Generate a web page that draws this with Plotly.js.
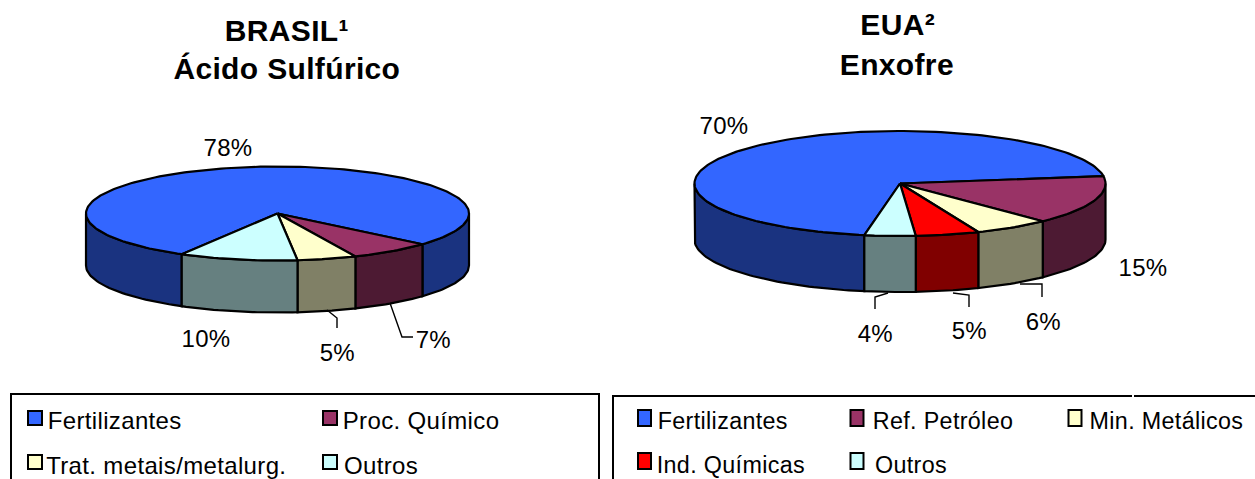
<!DOCTYPE html>
<html>
<head>
<meta charset="utf-8">
<script src="https://cdn.plot.ly/plotly-3.0.1.min.js"></script>
<style>
html,body{margin:0;padding:0;background:#fff;overflow:hidden}
#chart{width:1255px;height:479px}
#chart .annotation-text{letter-spacing:.35px}
</style>
</head>
<body>
<div id="chart"></div>
<script>
// Sector shares (%), in drawing order
const brasilCategories = ['Fertilizantes', 'Proc. Químico', 'Trat. metais/metalurg.', 'Outros'];
const brasilValues = [78, 7, 5, 10];
const brasilColors = ['#3366FF', '#993366', '#FFFFCC', '#CCFFFF'];

const euaCategories = ['Fertilizantes', 'Ref. Petróleo', 'Min. Metálicos', 'Ind. Químicas', 'Outros'];
const euaValues = [70, 15, 6, 5, 4];
const euaColors = ['#3366FF', '#993366', '#FFFFCC', '#FF0000', '#CCFFFF'];

// Geometry of each tilted pie, in page pixels; startDeg runs clockwise from 3 o'clock
const brasilPie = {cx: 277.5, cy: 213.5, rx: 191.5, ry: 47, depth: 52, startDeg: 120};
const euaPie = {cx: 900, cy: 183.5, rx: 205.5, ry: 52.5, depth: 56, startDeg: 100};

const traces = [];
const rad = d => d * Math.PI / 180;
const shade = hex => '#' + [1, 3, 5].map(i =>
  Math.round(parseInt(hex.substr(i, 2), 16) / 2).toString(16).padStart(2, '0')).join('');

function arc(p, a0, a1, dy) {
  const n = Math.max(2, Math.ceil(Math.abs(a1 - a0) / 1.5));
  const xs = [], ys = [];
  for (let i = 0; i <= n; i++) {
    const a = rad(a0 + (a1 - a0) * i / n);
    xs.push(p.cx + p.rx * Math.cos(a));
    ys.push(p.cy + dy + p.ry * Math.sin(a));
  }
  return [xs, ys];
}

function polygon(xs, ys, fill) {
  traces.push({
    type: 'scatter', mode: 'lines', x: xs, y: ys, fill: 'toself', fillcolor: fill,
    line: {color: '#000', width: 2.2, shape: 'linear'}, hoverinfo: 'skip', showlegend: false
  });
}

function drawPie(p, values, colors) {
  const total = values.reduce((a, b) => a + b, 0);
  const spans = [];
  let a = p.startDeg;
  values.forEach((v, i) => {
    const next = a + v / total * 360;
    spans.push([a, next, colors[i]]);
    a = next;
  });
  // Wall: only the part of each slice on the near half of the ellipse
  spans.forEach(([s, e, c]) => {
    [0, 360].forEach(off => {
      const lo = Math.max(s, off), hi = Math.min(e, off + 180);
      if (hi <= lo) return;
      const [tx, ty] = arc(p, lo, hi, 0);
      const [bx, by] = arc(p, hi, lo, p.depth);
      polygon(tx.concat(bx, tx[0]), ty.concat(by, ty[0]), shade(c));
    });
  });
  // Top face
  spans.forEach(([s, e, c]) => {
    const [tx, ty] = arc(p, s, e, 0);
    polygon([p.cx].concat(tx, p.cx), [p.cy].concat(ty, p.cy), c);
  });
}

drawPie(brasilPie, brasilValues, brasilColors);
drawPie(euaPie, euaValues, euaColors);

// Leader lines from the wall to the outer labels
const leaders = [
  [[327, 337, 337], [310, 318, 328]],
  [[390, 402, 413], [303, 337, 337]],
  [[888, 875, 875], [293, 297, 309]],
  [[953, 969, 969], [293, 295, 307]],
  [[1020, 1042, 1042], [284, 284, 297]]
];
leaders.forEach(([x, y]) => traces.push({
  type: 'scatter', mode: 'lines', x, y, line: {color: '#000', width: 1.4},
  hoverinfo: 'skip', showlegend: false
}));

const FONT = '"Liberation Sans", Arial, sans-serif';
const annotations = [];
function label(x, y, text, size, bold, anchor) {
  annotations.push({
    x, y, xref: 'x', yref: 'y', text: bold ? '<b>' + text + '</b>' : text,
    showarrow: false, xanchor: anchor || 'center', yanchor: 'middle',
    font: {family: FONT, size, color: '#000'}
  });
}

label(287, 30, 'BRASIL¹', 30, true);
label(287, 68, 'Ácido Sulfúrico', 30, true);
label(897, 24, 'EUA²', 30, true);
label(897, 64, 'Enxofre', 30, true);

// Value labels, in the same order as the series
const brasilLabelPos = [[228, 147], [433, 339], [337, 352], [206, 338]];
const euaLabelPos = [[724, 125], [1143, 267], [1043, 321], [969, 330], [875, 333]];
brasilValues.forEach((v, i) => label(brasilLabelPos[i][0], brasilLabelPos[i][1], v + '%', 24));
euaValues.forEach((v, i) => label(euaLabelPos[i][0], euaLabelPos[i][1], v + '%', 24));

// Hand-placed legends: key centre, text start, key size and font size per pie
const keyShapes = [];
function legend(names, colors, keys, textX, textY, w, h, size) {
  names.forEach((n, i) => {
    keyShapes.push({
      type: 'rect', xref: 'x', yref: 'y',
      x0: keys[i][0] - w / 2, x1: keys[i][0] + w / 2,
      y0: keys[i][1] - h / 2, y1: keys[i][1] + h / 2,
      fillcolor: colors[i], line: {color: '#000', width: 2}
    });
    label(textX[i], textY[i], n, size, false, 'left');
  });
}
legend(brasilCategories, brasilColors,
  [[35, 418], [330, 418], [35, 462], [330, 462]],
  [48, 343, 48, 343], [420.5, 420.5, 465, 465], 14, 14, 24);
legend(euaCategories, euaColors,
  [[644.5, 418], [857, 418], [1075, 418], [644.5, 461], [857, 461]],
  [658, 873, 1090, 657, 874], [420.5, 420.5, 420.5, 464.5, 464.5], 13, 16, 23.3);

const frame = (x0, y0, x1, y1) => ({
  type: 'rect', xref: 'x', yref: 'y', x0, y0, x1, y1,
  line: {color: '#000', width: 2}, fillcolor: 'rgba(0,0,0,0)'
});

const layout = {
  width: 1255, height: 479,
  margin: {l: 0, r: 0, t: 0, b: 0},
  paper_bgcolor: '#fff', plot_bgcolor: '#fff',
  xaxis: {range: [0, 1255], visible: false, fixedrange: true},
  yaxis: {range: [479, 0], visible: false, fixedrange: true},
  hovermode: false, showlegend: false,
  shapes: [
    frame(11, 394, 599, 500),
    frame(613, 396, 1270, 500),
    ...keyShapes,
    {type: 'line', xref: 'x', yref: 'y', x0: 1133, x1: 1133, y0: 392, y1: 431,
     line: {color: '#fff', width: 2}, layer: 'above'}
  ],
  annotations
};

Plotly.newPlot('chart', traces, layout, {displayModeBar: false, staticPlot: true});
</script>
</body>
</html>
